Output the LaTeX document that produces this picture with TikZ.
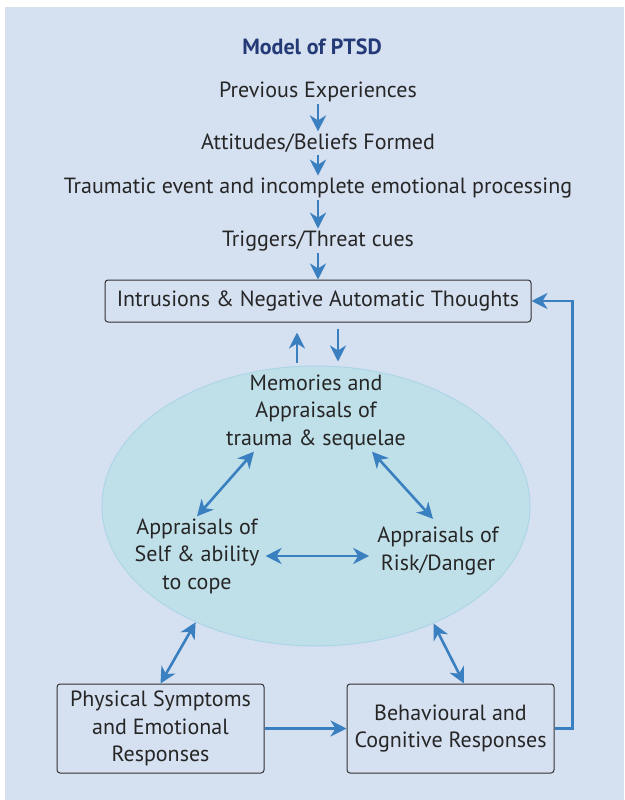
\documentclass[tikz,border=0pt]{standalone}
\usepackage{fontspec}
\setmainfont{PT Sans}
\usetikzlibrary{arrows.meta,shapes.geometric}
\definecolor{panelblue}{RGB}{213,224,241}
\definecolor{ovalfill}{RGB}{192,224,233}
\definecolor{ovalline}{RGB}{172,214,230}
\definecolor{arrowblue}{RGB}{58,128,192}
\definecolor{titleblue}{RGB}{36,58,118}
\tikzset{
  txt/.style={align=center, inner sep=2pt, text=black!85},
  box/.style={txt, draw=black!80, line width=1pt, rounded corners=3pt},
  arr/.style={draw=arrowblue, line width=2.6pt, -{Stealth[length=16pt,width=16pt,inset=5pt]}},
  dblarr/.style={arr, {Stealth[length=16pt,width=16pt,inset=5pt]}-{Stealth[length=16pt,width=16pt,inset=5pt]}}
}
\begin{document}
\begin{tikzpicture}[x=1pt, y=-1pt, font=\fontsize{22}{27.5}\selectfont]
      \useasboundingbox (0,0) rectangle (624,800);
      \fill[panelblue] (5,7) rectangle (624,800);
      \node (e)[ellipse, fill=ovalfill, draw=ovalline, line width=1pt,
        minimum width=428, minimum height=280] at (316,506) {};
      \draw
        (312,47) node (t)[txt, text=titleblue, font=\fontsize{22}{27.5}\selectfont\bfseries]{Model of PTSD}
        (318,92) node (0)[txt]{Previous Experiences}
        (318,143) node (1)[txt]{Attitudes/Beliefs Formed}
        (318,188) node (2)[txt]{Traumatic event and incomplete emotional processing}
        (318,241) node (3)[txt]{Triggers/Threat cues}
        (318,301) node (4)[box, minimum width=426, minimum height=42]{Intrusions \& Negative Automatic Thoughts}
        (316,412) node (5)[txt]{Memories and\\Appraisals of\\trauma \& sequelae}
        (197,556) node (6)[txt]{Appraisals of\\Self \& ability\\to cope}
        (438,551) node (7)[txt]{Appraisals of\\Risk/Danger}
        (160.5,728.5) node (8)[box, minimum width=207, minimum height=89]{Physical Symptoms\\and Emotional\\Responses}
        (450.5,728.5) node (9)[box, minimum width=207, minimum height=89]{Behavioural and\\Cognitive Responses};
      \begin{scope}[arr]
        \draw (0) to (1);
        \draw (1) to (2);
        \draw (2) to (3);
        \draw (3) to (4);
        \draw ([xshift=-19pt,yshift=3pt]e.north) to ([xshift=-21pt,yshift=-10pt]4.south);
        \draw ([xshift=20pt,yshift=-6pt]4.south) to ([xshift=22pt,yshift=4pt]e.north);
        \draw (8) to (9);
        \draw (9.east) -- ++(18,0) |- (4.east);
      \end{scope}
      \begin{scope}[dblarr]
        \draw ([xshift=30pt]5.south west) to (6.north);
        \draw ([xshift=-36pt]5.south east) to ([xshift=-5pt,yshift=6pt]7.north);
        \draw ([xshift=4pt]6.east) to ([xshift=-6pt]7.west |- 6.east);
        \draw (e.224) to (8.north);
        \draw (e.-45) to ([xshift=13.5pt]9.north);
      \end{scope}
    \end{tikzpicture}
\end{document}
